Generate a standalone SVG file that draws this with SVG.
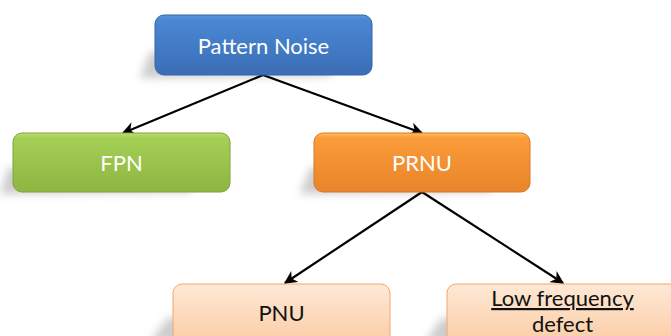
<svg xmlns="http://www.w3.org/2000/svg" width="671" height="336" viewBox="0 0 671 336">
<defs>
<linearGradient id="gBlue" x1="0" y1="0" x2="0" y2="1">
<stop offset="0" stop-color="#5a95dc"/><stop offset="0.08" stop-color="#4a87d3"/><stop offset="1" stop-color="#3a6eb6"/>
</linearGradient>
<linearGradient id="gGreen" x1="0" y1="0" x2="0" y2="1">
<stop offset="0" stop-color="#bfe070"/><stop offset="0.08" stop-color="#a5cf55"/><stop offset="1" stop-color="#8db642"/>
</linearGradient>
<linearGradient id="gOrange" x1="0" y1="0" x2="0" y2="1">
<stop offset="0" stop-color="#ffc15a"/><stop offset="0.08" stop-color="#fb9c3a"/><stop offset="1" stop-color="#e8842a"/>
</linearGradient>
<linearGradient id="gPeach" x1="0" y1="0" x2="0" y2="1">
<stop offset="0" stop-color="#fee8d6"/><stop offset="1" stop-color="#fbc89d"/>
</linearGradient>
<filter id="blur" x="-30%" y="-50%" width="160%" height="200%"><feGaussianBlur stdDeviation="4"/></filter>
<marker id="arr" viewBox="0 0 10 10" refX="9" refY="5" markerWidth="6" markerHeight="6" orient="auto" markerUnits="strokeWidth">
<path d="M0,0 L10,5 L0,10 L3,5 Z" fill="#000"/>
</marker>
<style>
.lbl{font-family:Lato,"Open Sans","Liberation Sans",sans-serif;font-size:22px;text-anchor:middle}
.w{fill:#ffffff}
.k{fill:#111111}
.sh{fill:#9a9a9a;opacity:0.5;filter:url(#blur)}
.conn line{stroke:#000;stroke-width:2.2;marker-end:url(#arr)}
</style>
</defs>
<rect width="671" height="336" fill="#ffffff"/>
<g id="shadows">
<path class="sh" d="M150,52 L340,50 L330,76 L140,78 Z"/>
<path class="sh" d="M8,168 L200,166 L190,192 L0,194 Z"/>
<path class="sh" d="M310,168 L500,166 L490,192 L300,194 Z"/>
<path class="sh" d="M168,318 L360,316 L350,340 L150,342 Z"/>
<path class="sh" d="M442,318 L640,316 L630,340 L425,342 Z"/>
</g>
<g class="conn" id="connectors">
<line x1="263" y1="75" x2="123" y2="133"/>
<line x1="263" y1="75" x2="422" y2="133"/>
<line x1="422" y1="192" x2="285" y2="283"/>
<line x1="422" y1="192" x2="563" y2="283"/>
</g>
<g id="pattern-noise">
<rect x="155" y="15" width="217" height="60" rx="9" fill="url(#gBlue)" stroke="#3465a8" stroke-width="1"/>
<text class="lbl w" x="263.5" y="54">Pattern Noise</text>
</g>
<g id="fpn">
<rect x="13" y="133" width="217" height="59" rx="9" fill="url(#gGreen)" stroke="#7ea23a" stroke-width="1"/>
<text class="lbl w" x="121.5" y="171">FPN</text>
</g>
<g id="prnu">
<rect x="314" y="133" width="216" height="59" rx="9" fill="url(#gOrange)" stroke="#d7782a" stroke-width="1"/>
<text class="lbl w" x="422" y="171">PRNU</text>
</g>
<g id="pnu">
<rect x="173" y="284" width="217" height="70" rx="9" fill="url(#gPeach)" stroke="#f6a56a" stroke-width="1"/>
<text class="lbl k" x="281.5" y="321">PNU</text>
</g>
<g id="low-frequency-defect">
<rect x="447" y="284" width="232" height="70" rx="9" fill="url(#gPeach)" stroke="#f6a56a" stroke-width="1"/>
<text class="lbl k" x="562.5" y="306" text-decoration="underline">Low frequency</text>
<text class="lbl k" x="562.5" y="332">defect</text>
</g>
</svg>
